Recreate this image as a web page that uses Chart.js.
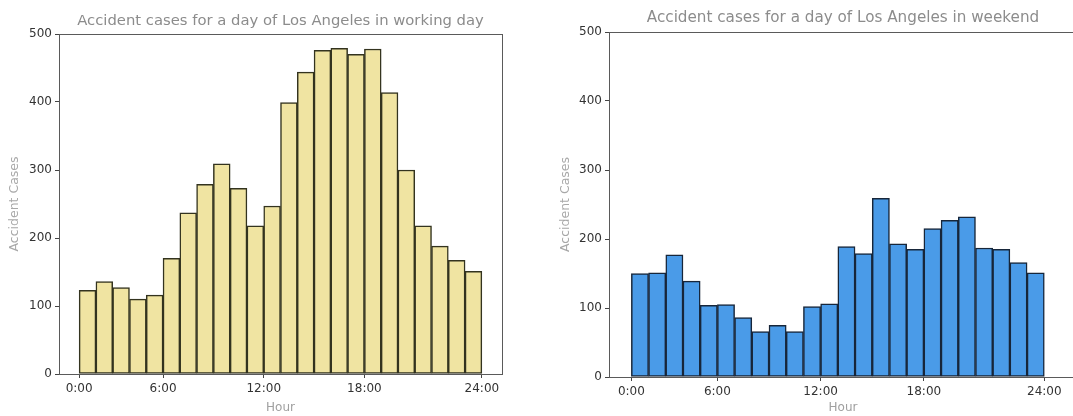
<!DOCTYPE html>
<html>
<head>
<meta charset="utf-8">
<script src="https://cdn.jsdelivr.net/npm/chart.js@4/dist/chart.umd.min.js"></script>
<style>
  html, body { margin: 0; padding: 0; background: #fff; overflow: hidden; }
  body { width: 1073px; height: 416px; position: relative; }
  .box { position: absolute; top: 0; height: 416px; }
  #leftBox { left: 0; width: 540px; }
  #rightBox { left: 540px; width: 560px; }
</style>
</head>
<body>
<div class="box" id="leftBox"><canvas id="workChart"></canvas></div>
<div class="box" id="rightBox"><canvas id="weekendChart"></canvas></div>
<script>
// Datos: un bin por hora
const hourBins = [0, 1, 2, 3, 4, 5, 6, 7, 8, 9, 10, 11, 12, 13, 14, 15, 16, 17, 18, 19, 20, 21, 22, 23];
const workingDay = [123, 136, 127, 110, 116, 170, 237, 279, 309, 273, 218, 247, 399, 444, 476, 479, 470, 478, 414, 300, 218, 188, 167, 151];
const weekend = [150, 151, 177, 139, 104, 105, 86, 66, 75, 66, 102, 106, 189, 179, 259, 193, 185, 215, 227, 232, 187, 185, 166, 151];
const tickAt = [0, 5, 11, 17, 24];
const tickLabels = ['0:00', '6:00', '12:00', '18:00', '24:00'];
const yTicks = [0, 100, 200, 300, 400, 500];

const FONT = 'DejaVu Sans';

// Marco completo + título centrado sobre el área del gráfico
const framePlugin = {
    id: 'frame',
    afterDraw(chart, args, opts) {
        const a = chart.chartArea;
        const c = chart.ctx;
        c.save();
        c.strokeStyle = '#5a5a5a';
        c.lineWidth = 1;
        c.strokeRect(a.left + 0.5, a.top + 0.5, a.right - a.left, a.bottom - a.top);
        c.fillStyle = '#8c8c8c';
        c.font = opts.size + 'px "' + FONT + '"';
        c.textAlign = 'center';
        c.textBaseline = 'middle';
        c.fillText(opts.text, (a.left + a.right) / 2, a.top - opts.gap);
        c.restore();
    }
};

function makeChart(id, values, fill, edge, cfg) {
    const ctx = document.getElementById(id).getContext('2d');
    return new Chart(ctx, {
        type: 'bar',
        data: {
            datasets: [{
                data: hourBins.map((h, i) => ({ x: h + 0.5, y: values[i] })),
                backgroundColor: fill,
                borderColor: edge,
                borderWidth: 1.5,
                borderSkipped: false,
                barPercentage: 1,
                categoryPercentage: 1
            }]
        },
        options: {
            responsive: true,
            maintainAspectRatio: false,
            animation: false,
            devicePixelRatio: 1,
            layout: { padding: cfg.padding },
            plugins: {
                legend: { display: false },
                tooltip: { enabled: false },
                frame: { text: cfg.title, gap: cfg.titleGap, size: cfg.titleSize }
            },
            scales: {
                x: {
                    type: 'linear',
                    min: cfg.xMin,
                    max: cfg.xMax,
                    offset: false,
                    afterFit: s => { s.height = cfg.xHeight; },
                    afterBuildTicks: s => { s.ticks = tickAt.map(v => ({ value: v })); },
                    grid: { display: true, drawOnChartArea: false, tickLength: 4, tickColor: '#444', offset: false },
                    border: { display: true, color: '#5a5a5a' },
                    ticks: {
                        autoSkip: false,
                        maxRotation: 0,
                        padding: 4,
                        color: '#333',
                        font: { family: FONT, size: 12 },
                        callback: v => tickLabels[tickAt.indexOf(v)]
                    },
                    title: {
                        display: true,
                        text: 'Hour',
                        color: '#a0a0a0',
                        font: { family: FONT, size: 12 },
                        padding: { top: 0, bottom: 1 }
                    }
                },
                y: {
                    min: 0,
                    max: 500,
                    afterFit: s => { s.width = cfg.yWidth; },
                    afterBuildTicks: s => { s.ticks = yTicks.map(v => ({ value: v })); },
                    grid: { display: true, drawOnChartArea: false, tickLength: 4, tickColor: '#444' },
                    border: { display: true, color: '#5a5a5a' },
                    ticks: {
                        padding: 3,
                        color: '#333',
                        font: { family: FONT, size: 12 }
                    },
                    title: {
                        display: true,
                        text: 'Accident Cases',
                        color: '#a8a8a8',
                        font: { family: FONT, size: 12.5 },
                        padding: { top: cfg.yTitlePad, bottom: 0 }
                    }
                }
            }
        },
        plugins: [framePlugin]
    });
}

makeChart('workChart', workingDay, '#F0E4A2', '#33331f', {
    title: 'Accident cases for a day of Los Angeles in working day',
    titleSize: 14.8,
    titleGap: 13,
    padding: { left: 0, right: 38, top: 34, bottom: 0 },
    xMin: -1.2, xMax: 25.2,
    xHeight: 42, yWidth: 59, yTitlePad: 7,
});

makeChart('weekendChart', weekend, '#4A9BE8', '#17263a', {
    title: 'Accident cases for a day of Los Angeles in weekend',
    titleSize: 15.2,
    titleGap: 14,
    padding: { left: 0, right: 23, top: 32, bottom: 0 },
    xMin: -1.3, xMax: 25.9,
    xHeight: 39, yWidth: 69, yTitlePad: 18
});
</script>
</body>
</html>
